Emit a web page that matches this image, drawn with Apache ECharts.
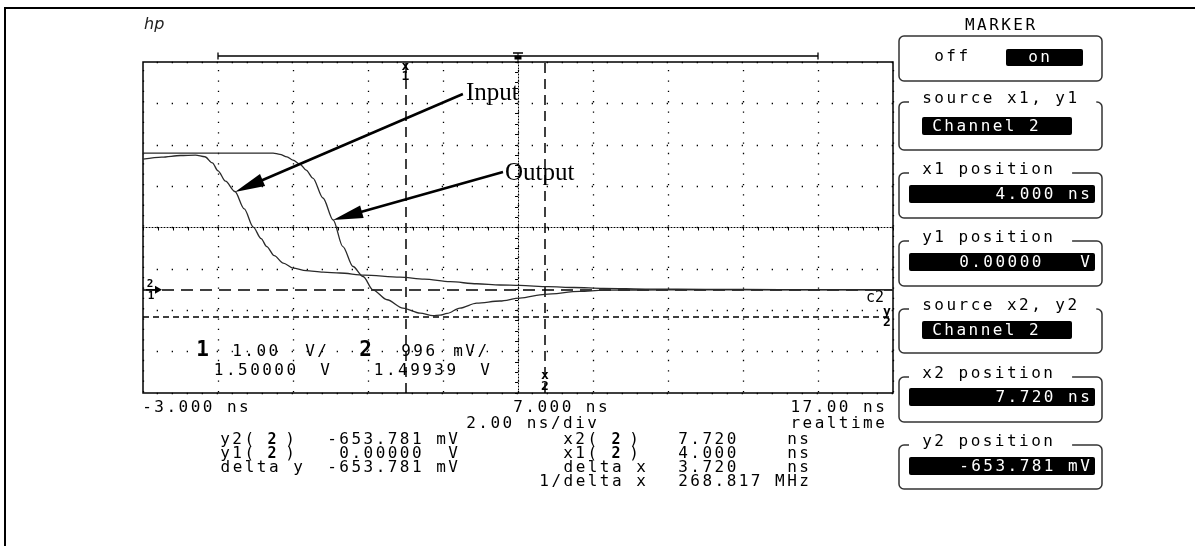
<!DOCTYPE html>
<html><head><meta charset="utf-8"><title>HP scope marker screen</title>
<script src="https://cdn.jsdelivr.net/npm/echarts@6/dist/echarts.min.js"></script>
<style>html,body{margin:0;padding:0;background:#fff;}#chart{width:1195px;height:546px;}</style>
</head><body><div id="chart"></div><script>
// ---------------- data ----------------
const timeMin = -3, timeMax = 17;                 // ns  (2.00 ns/div)
const ch1VoltsPerDiv = 1.00, ch1Offset = 1.50000; // channel 1 (Input)
const ch2VoltsPerDiv = 0.996, ch2Offset = 1.49939;// channel 2 (Output)
const inputWave = [[-3.0,3.15],[-2.5,3.20],[-2.0,3.24],[-1.6,3.25],[-1.35,3.21],[-1.15,3.06],[-1.0,2.87],[-0.8,2.62],[-0.55,2.37],[-0.3,1.95],[-0.06,1.51],[0.15,1.23],[0.3,1.04],[0.5,0.82],[0.74,0.64],[1.0,0.52],[1.35,0.46],[1.8,0.42],[2.25,0.40],[2.9,0.35],[3.85,0.30],[4.5,0.25],[5.19,0.19],[5.9,0.14],[6.52,0.11],[7.05,0.10],[7.8,0.07],[8.5,0.05],[9.27,0.03],[10.5,0.01],[12,0.005],[14,0.0],[17,0.0]];
const outputWave = [[-3.0,3.29],[-1.0,3.29],[0.47,3.29],[0.65,3.26],[0.84,3.20],[1.0,3.12],[1.19,3.02],[1.35,2.88],[1.53,2.69],[1.8,2.21],[2.07,1.68],[2.33,1.04],[2.6,0.56],[2.87,0.32],[3.13,0.0],[3.51,-0.24],[3.93,-0.44],[4.39,-0.56],[4.73,-0.62],[4.92,-0.61],[5.11,-0.57],[5.45,-0.44],[5.9,-0.32],[6.52,-0.27],[7.05,-0.20],[7.72,-0.11],[8.65,-0.04],[9.27,-0.01],[11,0.0],[13,0.0],[17,0.0]];
const markerTimes = [4.000, 7.720];          // x1, x2 (ns)
const markerVolts = [0.00000, -0.653781];    // y1, y2 (V, channel 2)
const timebaseWindow = [-1, 15];             // ns
const triggerTime = 7;                       // ns
const groundVolts = 0;
const inputLabelAt = [5.61, 4.74];
const inputArrowFrom = [5.53, 4.727];
const inputArrowTo = [-0.547, 2.36];
const outputLabelAt = [6.65, 2.80];
const outputArrowFrom = [6.60, 2.843];
const outputArrowTo = [2.067, 1.684];
const timeAxisLabels = ['-3.000 ns', '7.000 ns', '17.00 ns'];
const timebaseText = ['2.00 ns/div', 'realtime'];
const ch1Readout = ['1.00', 'V/', '1.50000', 'V'];
const ch2Readout = ['996', 'mV/', '1.49939', 'V'];
const yReadoutNames = ['y2(', 'y1(', 'delta y'];
const yReadoutValues = ['-653.781 mV', ' 0.00000  V', '-653.781 mV'];
const xReadoutNames = ['x2(', 'x1(', 'delta x', '1/delta x'];
const xReadoutValues = ['7.720    ns', '4.000    ns', '3.720    ns', '268.817 MHz'];
const softkeyTitles = ['MARKER', 'source x1, y1', 'x1 position', 'y1 position', 'source x2, y2', 'x2 position', 'y2 position'];
const softkeyValues = ['on', 'Channel 2', '4.000 ns', '0.00000   V', 'Channel 2', '7.720 ns', '-653.781 mV'];

// ---------------- chart ----------------
const chart = echarts.init(document.getElementById('chart'));
const GL = 143, GT = 62, GW = 750, GH = 331;
const dot = '#000';
chart.setOption({
  animation: false,
  backgroundColor: '#fff',
  grid: {left: GL, top: GT, width: GW, height: GH, show: true, borderColor: '#000', borderWidth: 1.5},
  xAxis: [
    {type: 'value', min: -5, max: 5, interval: 1, position: 'bottom',
     axisLine: {show: true, onZero: true, onZeroAxisIndex: 0, lineStyle: {color: dot, width: 1, type: [1, 2]}},
     axisTick: {show: true, length: 3, lineStyle: {color: dot, width: 1}},
     minorTick: {show: true, splitNumber: 5, length: 3, lineStyle: {color: dot, width: 1}},
     axisLabel: {show: false},
     splitLine: {show: true, lineStyle: {color: dot, width: 1.3, type: [1.3, 9.05], dashOffset: 2.3}}},
    {type: 'value', min: timeMin, max: timeMax, position: 'top', show: false}
  ],
  yAxis: [
    {type: 'value', min: -4, max: 4, interval: 1, position: 'left',
     axisLine: {show: true, onZero: true, onZeroAxisIndex: 0, lineStyle: {color: dot, width: 1, type: [1, 2]}},
     axisTick: {show: true, length: 3, lineStyle: {color: dot, width: 1}},
     minorTick: {show: true, splitNumber: 4, length: 3, lineStyle: {color: dot, width: 1}},
     axisLabel: {show: false},
     splitLine: {show: true, lineStyle: {color: dot, width: 1.3, type: [1.3, 13.7], dashOffset: 1.3}}},
    {type: 'value', min: ch1Offset - 4 * ch1VoltsPerDiv, max: ch1Offset + 4 * ch1VoltsPerDiv, position: 'right', show: false},
    {type: 'value', min: ch2Offset - 4 * ch2VoltsPerDiv, max: ch2Offset + 4 * ch2VoltsPerDiv, position: 'right', show: false}
  ],
  series: [
    {type: 'line', name: 'Input', xAxisIndex: 1, yAxisIndex: 1, data: inputWave, showSymbol: false, silent: true,
     smooth: 0.3, smoothMonotone: 'x', lineStyle: {color: '#2a2a2a', width: 1.3}, z: 5},
    {type: 'line', name: 'Output', xAxisIndex: 1, yAxisIndex: 2, data: outputWave, showSymbol: false, silent: true,
     smooth: 0.3, smoothMonotone: 'x', lineStyle: {color: '#2a2a2a', width: 1.3}, z: 5,
     markLine: {silent: true, symbol: 'none', animation: false, label: {show: false},
       data: [
         {xAxis: markerTimes[0], lineStyle: {color: '#000', width: 1.5, type: [10, 6]}},
         {xAxis: markerTimes[1], lineStyle: {color: '#000', width: 1.5, type: [10, 6]}},
         {yAxis: markerVolts[0], lineStyle: {color: '#000', width: 1.5, type: [12, 7]}},
         {yAxis: markerVolts[1], lineStyle: {color: '#000', width: 1.5, type: [6, 4]}}
       ]}}
  ]
});

// ---------------- annotations / text ----------------
const P = 12.1;
const FS = 16;
const MONO = '"DejaVu Sans Mono", "Liberation Mono", monospace';
const els = [];
function mono(str, x, y, size, weight, color) {
  for (let i = 0; i < str.length; i++) {
    const ch = str[i];
    if (ch === ' ') continue;
    els.push({type: 'text', x: x + i * P + P / 2, y: y, silent: true, z: 20,
      style: {text: ch, font: (weight || 'normal') + ' ' + (size || FS) + 'px ' + MONO, fill: color || '#000', align: 'center', verticalAlign: 'middle'}});
  }
}
function monoRight(str, xEnd, y, size, weight, color) { mono(str, xEnd - str.length * P, y, size, weight, color); }
function txt(s, x, y, font, align, color) {
  els.push({type: 'text', x: x, y: y, silent: true, z: 20, style: {text: s, font: font, fill: color || '#000', align: align || 'left', verticalAlign: 'middle'}});
}
const pin = (pt) => chart.convertToPixel({seriesIndex: 0}, pt);
const pout = (pt) => chart.convertToPixel({seriesIndex: 1}, pt);
const tx = (t) => chart.convertToPixel({xAxisIndex: 1}, t);

// outer frame
els.push({type: 'rect', shape: {x: 5, y: 8, width: 1300, height: 700}, style: {fill: 'none', stroke: '#000', lineWidth: 2}, silent: true});
// hp logo
txt('hp', 144, 25, 'italic 16px "DejaVu Sans"', 'left', '#222');

// timebase window bar + trigger
const wa = tx(timebaseWindow[0]), wb = tx(timebaseWindow[1]), tt = tx(triggerTime);
els.push({type: 'line', shape: {x1: wa, y1: 56, x2: wb, y2: 56}, style: {stroke: '#000', lineWidth: 1.3}, silent: true});
els.push({type: 'line', shape: {x1: wa, y1: 52.5, x2: wa, y2: 59.5}, style: {stroke: '#000', lineWidth: 1.3}, silent: true});
els.push({type: 'line', shape: {x1: wb, y1: 52.5, x2: wb, y2: 59.5}, style: {stroke: '#000', lineWidth: 1.3}, silent: true});
els.push({type: 'line', shape: {x1: tt - 5, y1: 53, x2: tt + 5, y2: 53}, style: {stroke: '#000', lineWidth: 1.5}, silent: true});
els.push({type: 'rect', shape: {x: tt - 3.5, y: 55.5, width: 7, height: 4}, style: {fill: '#000'}, silent: true});
els.push({type: 'line', shape: {x1: tt, y1: 53, x2: tt, y2: 62}, style: {stroke: '#000', lineWidth: 1}, silent: true});

// marker labels
const x1p = tx(markerTimes[0]), x2p = tx(markerTimes[1]);
txt('x', x1p, GT + 5, 'bold 13px ' + MONO, 'center');
txt('1', x1p, GT + 15, 'bold 13px ' + MONO, 'center');
txt('x', x2p, GT + GH - 17, 'bold 13px ' + MONO, 'center');
txt('2', x2p, GT + GH - 6, 'bold 13px ' + MONO, 'center');
const y2p = pout([0, markerVolts[1]])[1];
txt('y', GL + GW - 6, y2p - 5, 'bold 13px ' + MONO, 'center');
txt('2', GL + GW - 6, y2p + 6, 'bold 13px ' + MONO, 'center');
const gp = pout([0, groundVolts])[1];
txt('c2', GL + GW - 9, gp + 8, '15px ' + MONO, 'right');
// ground marker at left
txt('2', GL + 7, gp - 6, 'bold 11px ' + MONO, 'center');
txt('1', GL + 8, gp + 6, 'bold 11px ' + MONO, 'center');
els.push({type: 'polygon', shape: {points: [[GL + 12, gp - 4], [GL + 19, gp], [GL + 12, gp + 4]]}, style: {fill: '#000'}, silent: true, z: 20});
els.push({type: 'line', shape: {x1: GL + 3, y1: gp, x2: GL + 13, y2: gp}, style: {stroke: '#000', lineWidth: 1.5}, silent: true, z: 20});

// Input / Output arrows
function arrow(a, b) {
  const dx = b[0] - a[0], dy = b[1] - a[1], L = Math.hypot(dx, dy), ux = dx / L, uy = dy / L;
  const HL = 30, HW = 6.5;
  const bx = b[0] - ux * HL, by = b[1] - uy * HL;
  els.push({type: 'line', shape: {x1: a[0], y1: a[1], x2: bx + ux * 3, y2: by + uy * 3}, style: {stroke: '#000', lineWidth: 2.5}, silent: true, z: 15});
  els.push({type: 'polygon', shape: {points: [[b[0], b[1]], [bx - uy * HW, by + ux * HW], [bx + uy * HW, by - ux * HW]]}, style: {fill: '#000'}, silent: true, z: 15});
}
arrow(pin(inputArrowFrom), pin(inputArrowTo));
arrow(pin(outputArrowFrom), pin(outputArrowTo));
const il = pin(inputLabelAt), ol = pin(outputLabelAt);
txt('Input', il[0], il[1], '25px "Liberation Serif", "Times New Roman", serif', 'left');
txt('Output', ol[0], ol[1], '25px "Liberation Serif", "Times New Roman", serif', 'left');

// channel readouts inside plot
txt('1', 202.5, 351, 'bold 21px ' + MONO, 'center');
mono(ch1Readout[0], 231, 352);
mono(ch1Readout[1], 304, 352);
mono(ch1Readout[2], 212.6, 371);
mono(ch1Readout[3], 319, 371);
txt('2', 365.5, 351, 'bold 21px ' + MONO, 'center');
mono(ch2Readout[0], 400, 352);
mono(ch2Readout[1], 452, 352);
mono(ch2Readout[2], 372.6, 371);
mono(ch2Readout[3], 479, 371);

// time axis labels
mono(timeAxisLabels[0], 141, 408);
mono(timeAxisLabels[1], 512, 408);
monoRight(timeAxisLabels[2], 886, 408);
mono(timebaseText[0], 465, 424);
monoRight(timebaseText[1], 886, 424);

// marker readout rows
const rows = [440, 454, 468, 482];
for (let i = 0; i < 3; i++) {
  if (i < 2) {
    mono(yReadoutNames[i], 219, rows[i]);
    txt('2', 272, rows[i], 'bold 15px ' + MONO, 'center');
    txt(')', 290, rows[i], FS + 'px ' + MONO, 'center');
  } else {
    monoRight(yReadoutNames[i], 304, rows[i]);
  }
  mono(yReadoutValues[i], 326, rows[i]);
}
for (let i = 0; i < 4; i++) {
  if (i < 2) {
    mono(xReadoutNames[i], 562, rows[i]);
    txt('2', 616, rows[i], 'bold 15px ' + MONO, 'center');
    txt(')', 634, rows[i], FS + 'px ' + MONO, 'center');
  } else {
    monoRight(xReadoutNames[i], 647, rows[i]);
  }
  mono(xReadoutValues[i], 677, rows[i]);
}

// softkey panel
const BX = 899, BW = 203;
const tops = [36, 102, 173, 241, 309, 377, 445];
const bots = [81, 150, 218, 286, 353, 422, 489];
mono(softkeyTitles[0], 1000 - softkeyTitles[0].length * P / 2, 26);
for (let i = 0; i < 7; i++) {
  els.push({type: 'rect', shape: {x: BX, y: tops[i], width: BW, height: bots[i] - tops[i], r: 5}, style: {fill: 'none', stroke: '#333', lineWidth: 1.5}, silent: true, z: 10});
  if (i > 0) {
    const t = softkeyTitles[i];
    els.push({type: 'rect', shape: {x: 909, y: tops[i] - 4, width: 921 + t.length * P + 18 - 909, height: 8}, style: {fill: '#fff'}, silent: true, z: 11});
    mono(t, 921, tops[i] - 3);
  }
}
// box 0: off / on
mono('off', 933, 57);
els.push({type: 'rect', shape: {x: 1006, y: 49, width: 77, height: 17, r: 2}, style: {fill: '#000'}, silent: true, z: 12});
mono(softkeyValues[0], 1027, 57.5, FS, 'normal', '#fff');
const fieldY = [0, 117, 185, 253, 321, 388, 457];
for (let i = 1; i < 7; i++) {
  const isSrc = (i === 1 || i === 4);
  if (isSrc) {
    els.push({type: 'rect', shape: {x: 922, y: fieldY[i], width: 150, height: 18, r: 2}, style: {fill: '#000'}, silent: true, z: 12});
    mono(softkeyValues[i], 931, fieldY[i] + 9.5, FS, 'normal', '#fff');
  } else {
    els.push({type: 'rect', shape: {x: 909, y: fieldY[i], width: 186, height: 18, r: 2}, style: {fill: '#000'}, silent: true, z: 12});
    monoRight(softkeyValues[i], 1091, fieldY[i] + 9.5, FS, 'normal', '#fff');
  }
}
chart.setOption({graphic: {elements: els}});
</script></body></html>
